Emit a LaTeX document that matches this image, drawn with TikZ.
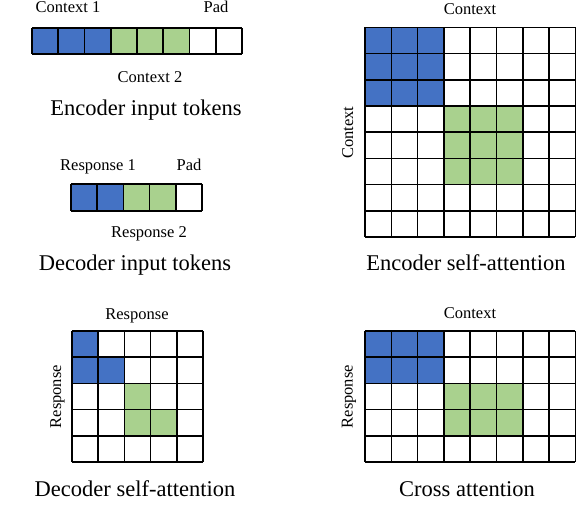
\documentclass[tikz,border=0pt]{standalone}
\usepackage{fontspec}
\setmainfont{Liberation Serif}
\definecolor{tokblue}{HTML}{4472C4}
\definecolor{tokgreen}{HTML}{A9D18E}
\tikzset{
  smalllabel/.style={inner sep=0pt, anchor=base, font=\fontsize{16.5}{18}\selectfont},
  titlelabel/.style={inner sep=0pt, anchor=base, font=\fontsize{22.5}{26}\selectfont},
  gridline/.style={draw=black, line width=1.6pt},
}
\begin{document}
\begin{tikzpicture}[x=1pt, y=-1pt]
\useasboundingbox (0,0) rectangle (576,528);

% ---------- Encoder input tokens ----------
\begin{scope}[shift={(32,28)}, x=26.25pt, y=-26pt]
  \fill[tokblue] (0,0) rectangle (3,1);
  \fill[tokgreen] (3,0) rectangle (6,1);
  \foreach \i in {0,...,8} \draw[gridline] (\i,0) -- (\i,1);
  \draw[gridline] (0,0) -- (8,0) (0,1) -- (8,1);
\end{scope}
\node[smalllabel] (ctx1) at (68,12.7) {Context 1};
\node[smalllabel] (pad1) at (216,12.7) {Pad};
\node[smalllabel] (ctx2) at (150,82) {Context 2};
\node[titlelabel] (enctok) at (146,115) {Encoder input tokens};

% ---------- Decoder input tokens ----------
\begin{scope}[shift={(71,184)}, x=26.2pt, y=-27pt]
  \fill[tokblue] (0,0) rectangle (2,1);
  \fill[tokgreen] (2,0) rectangle (4,1);
  \foreach \i in {0,...,5} \draw[gridline] (\i,0) -- (\i,1);
  \draw[gridline] (0,0) -- (5,0) (0,1) -- (5,1);
\end{scope}
\node[smalllabel] (resp1) at (98,170) {Response 1};
\node[smalllabel] (pad2) at (189,170) {Pad};
\node[smalllabel] (resp2) at (149,237.3) {Response 2};
\node[titlelabel] (dectok) at (135,270) {Decoder input tokens};

% ---------- Encoder self-attention ----------
\begin{scope}[shift={(365,27.3)}, x=26.3pt, y=-26.2pt]
  \fill[tokblue] (0,0) rectangle (3,3);
  \fill[tokgreen] (3,3) rectangle (6,6);
  \foreach \i in {0,...,8} \draw[gridline] (\i,0) -- (\i,8);
  \foreach \j in {0,...,8} \draw[gridline] (0,\j) -- (8,\j);
\end{scope}
\node[smalllabel] (encctx) at (470,14) {Context};
\node[smalllabel, rotate=90] (encside) at (353,132.7) {Context};
\node[titlelabel] (encsa) at (466,270) {Encoder self-attention};

% ---------- Decoder self-attention ----------
\begin{scope}[shift={(72,331)}, x=26.2pt, y=-26.2pt]
  \fill[tokblue] (0,0) rectangle (1,2);
  \fill[tokblue] (1,1) rectangle (2,2);
  \fill[tokgreen] (2,2) rectangle (3,4);
  \fill[tokgreen] (3,3) rectangle (4,4);
  \foreach \i in {0,...,5} \draw[gridline] (\i,0) -- (\i,5);
  \foreach \j in {0,...,5} \draw[gridline] (0,\j) -- (5,\j);
\end{scope}
\node[smalllabel] (decresp) at (137,319) {Response};
\node[smalllabel, rotate=90] (decside) at (61,396.7) {Response};
\node[titlelabel] (decsa) at (135,496.7) {Decoder self-attention};

% ---------- Cross attention ----------
\begin{scope}[shift={(365,331)}, x=26.3pt, y=-26.2pt]
  \fill[tokblue] (0,0) rectangle (3,2);
  \fill[tokgreen] (3,2) rectangle (6,4);
  \foreach \i in {0,...,8} \draw[gridline] (\i,0) -- (\i,5);
  \foreach \j in {0,...,5} \draw[gridline] (0,\j) -- (8,\j);
\end{scope}
\node[smalllabel] (crossctx) at (470,318.3) {Context};
\node[smalllabel, rotate=90] (crossside) at (352.7,396.7) {Response};
\node[titlelabel] (crossatt) at (467,496.7) {Cross attention};
\end{tikzpicture}
\end{document}
